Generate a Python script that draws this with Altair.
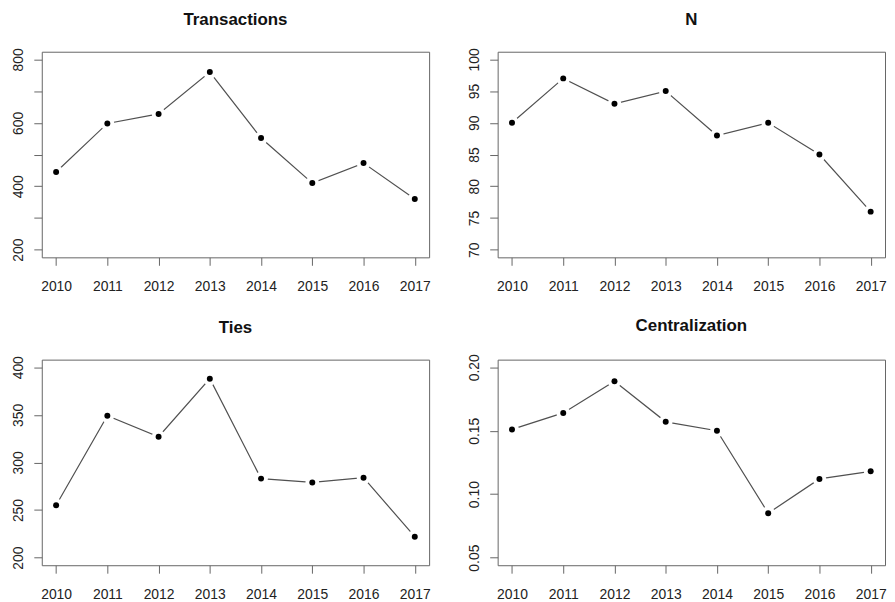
import altair as alt
import pandas as pd

years = [2010, 2011, 2012, 2013, 2014, 2015, 2016, 2017]
transactions = [445, 598, 628, 760, 552, 410, 473, 360]
n_values = [90, 97, 93, 95, 88, 90, 85, 76]
ties = [255, 349, 327, 388, 283, 279, 284, 222]
centralization = [0.151, 0.164, 0.189, 0.157, 0.150, 0.085, 0.112, 0.118]

titles = ["Transactions", "N", "Ties", "Centralization"]
series = [transactions, n_values, ties, centralization]
y_limits = [[200, 800], [70, 100], [200, 400], [0.05, 0.20]]
y_ticks = [
    [200, 300, 400, 500, 600, 700, 800],
    [70, 75, 80, 85, 90, 95, 100],
    [200, 250, 300, 350, 400],
    [0.05, 0.10, 0.15, 0.20],
]
y_formats = ["d", "d", "d", ".2f"]
label_exprs = ["datum.value % 200 == 0 ? datum.label : ''", None, None, None]

FONT = "Liberation Sans"
W, H = 390, 207
AX = dict(domain=False, grid=False, ticks=True, tickColor="#666666", tickSize=8,
          tickWidth=1, labelFont=FONT, labelFontSize=14, labelColor="#222222",
          labelFlush=False, labelOverlap=False, title=None)


def pad(lo, hi):
    r = (hi - lo) * 0.04
    return [lo - r, hi + r]


def panel(title, values, ylim, ticks, fmt, lexpr):
    df = pd.DataFrame({"year": years, "value": values})
    xscale = alt.Scale(domain=pad(years[0], years[-1]), nice=False, zero=False)
    yscale = alt.Scale(domain=pad(*ylim), nice=False, zero=False)
    xaxis = alt.Axis(values=years, format="d", labelPadding=14, **AX)
    yargs = dict(values=ticks, format=fmt, labelAngle=270,
                 labelAlign="center", labelBaseline="bottom", labelPadding=8, **AX)
    if lexpr:
        yargs["labelExpr"] = lexpr
    yaxis = alt.Axis(**yargs)
    base = alt.Chart(df).encode(
        x=alt.X("year:Q", scale=xscale, axis=xaxis),
        y=alt.Y("value:Q", scale=yscale, axis=yaxis),
    )
    line = base.mark_line(color="#505050", strokeWidth=1.2)
    halo = base.mark_point(filled=True, shape="circle", size=190, color="white", opacity=1)
    dots = base.mark_point(filled=True, shape="circle", size=36, color="black", opacity=1)
    return alt.layer(line, halo, dots).properties(
        width=W, height=H,
        title=alt.TitleParams(title, fontSize=17, fontWeight="bold", font=FONT,
                              color="#111111", anchor="middle", baseline="alphabetic",
                              offset=6),
    )


panels = [panel(t, v, yl, tk, f, le) for t, v, yl, tk, f, le in
          zip(titles, series, y_limits, y_ticks, y_formats, label_exprs)]

chart = alt.concat(*panels, columns=2, spacing={"row": 103, "column": 69},
                   bounds="flush").properties(
    padding={"left": 3, "top": 0, "right": 0, "bottom": 0},
    background="white",
).configure_view(
    stroke="#666666", strokeWidth=1
)

chart.save("out.html", embed_options={"renderer": "svg", "actions": False})
